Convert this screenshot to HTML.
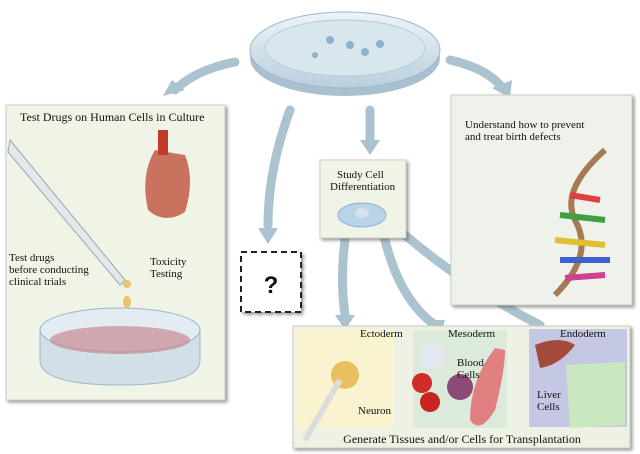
<!DOCTYPE html>
<html><head><style>body{margin:0;background:#fff}svg{display:block}text{font-family:"Liberation Serif",serif;fill:#111}</style></head><body>
<svg width="640" height="454" viewBox="0 0 640 454">
<defs>
<linearGradient id="dish" x1="0" y1="0" x2="0" y2="1"><stop offset="0" stop-color="#eef4f8"/><stop offset="1" stop-color="#b9cfdd"/></linearGradient>
<filter id="sh"><feDropShadow dx="2" dy="2" stdDeviation="1.5" flood-color="#555" flood-opacity="0.6"/></filter>
</defs>
<g fill="none" stroke="#abc2cf" stroke-width="9" stroke-linecap="round">
<path d="M235,62 Q195,70 175,90"/>
<path d="M290,110 Q268,170 268,225"/>
<path d="M370,110 L370,140"/>
<path d="M450,60 Q485,68 500,85"/>
<path d="M345,240 Q340,280 345,315"/>
<path d="M385,240 Q400,300 435,325"/>
<path d="M405,235 Q470,290 540,325"/>
</g>
<g fill="#abc2cf">
<polygon points="163,96 185,90 172,80"/>
<polygon points="258,228 278,228 268,244"/>
<polygon points="360,140 380,140 370,155"/>
<polygon points="492,88 512,80 510,98"/>
<polygon points="335,315 355,315 345,330"/>
<polygon points="425,320 445,320 440,338"/>
<polygon points="530,318 545,330 528,338"/>
</g>
<ellipse cx="345" cy="58" rx="95" ry="38" fill="#a9c0cf"/>
<ellipse cx="345" cy="50" rx="95" ry="38" fill="url(#dish)" stroke="#9fb8c8"/>
<ellipse cx="345" cy="48" rx="80" ry="28" fill="#d8e6ee" stroke="#b7cbd7"/>
<g fill="#8fb2cc"><circle cx="330" cy="40" r="4"/><circle cx="350" cy="45" r="4"/><circle cx="365" cy="52" r="4"/><circle cx="380" cy="44" r="4"/><circle cx="315" cy="55" r="3"/></g>
<rect x="6" y="105" width="219" height="295" fill="#eff4e7" stroke="#c8cfc0" filter="url(#sh)"/>
<text x="20" y="121" font-size="12">Test Drugs on Human Cells in Culture</text>
<path d="M10,140 L125,280 L120,285 L8,152Z" fill="#e4e8ea" stroke="#9aa"/>
<ellipse cx="127" cy="284" rx="4" ry="4" fill="#e8c46a"/>
<ellipse cx="127" cy="302" rx="4" ry="6" fill="#e8c46a"/>
<path d="M155,150 Q140,175 148,210 Q165,225 185,212 Q195,180 185,155Z" fill="#c9735e"/>
<rect x="158" y="130" width="10" height="25" fill="#c23a2a"/>
<text x="9" y="261" font-size="11">Test drugs</text>
<text x="9" y="273" font-size="11">before conducting</text>
<text x="9" y="285" font-size="11">clinical trials</text>
<text x="150" y="265" font-size="11">Toxicity</text>
<text x="150" y="277" font-size="11">Testing</text>
<path d="M40,330 L40,360 Q40,385 120,385 Q200,385 200,360 L200,330" fill="#d3dfe8" stroke="#9ab6c9"/>
<ellipse cx="120" cy="330" rx="80" ry="22" fill="#e2ecf2" stroke="#9ab6c9"/>
<ellipse cx="120" cy="340" rx="70" ry="14" fill="#c98a92" opacity="0.7"/>
<rect x="241" y="252" width="60" height="60" fill="#fff" stroke="#222" stroke-width="2" stroke-dasharray="6,4" filter="url(#sh)"/>
<text x="271" y="293" font-size="24" font-weight="bold" text-anchor="middle" style="font-family:'Liberation Sans',sans-serif">?</text>
<rect x="320" y="160" width="86" height="78" fill="#eff4e7" stroke="#c8cfc0" filter="url(#sh)"/>
<text x="337" y="178" font-size="11">Study Cell</text>
<text x="330" y="190" font-size="11">Differentiation</text>
<ellipse cx="362" cy="215" rx="24" ry="12" fill="#b9d3e8" stroke="#8fb0cc"/>
<ellipse cx="362" cy="213" rx="7" ry="5" fill="#d6e1ee"/>
<rect x="451" y="95" width="181" height="210" fill="#eff2ea" stroke="#c8cfc0" filter="url(#sh)"/>
<text x="465" y="128" font-size="11">Understand how to prevent</text>
<text x="465" y="140" font-size="11">and treat birth defects</text>
<path d="M605,150 Q560,190 575,220 Q595,255 555,295" fill="none" stroke="#a57a55" stroke-width="6"/>
<g stroke-width="6"><line x1="570" y1="195" x2="600" y2="200" stroke="#e04040"/><line x1="560" y1="215" x2="605" y2="220" stroke="#40a040"/><line x1="555" y1="240" x2="605" y2="245" stroke="#e0c030"/><line x1="560" y1="260" x2="610" y2="260" stroke="#4060d0"/><line x1="565" y1="278" x2="605" y2="275" stroke="#d04090"/></g>
<rect x="293" y="326" width="337" height="122" fill="#eef2e4" stroke="#c8cfc0" filter="url(#sh)"/>
<rect x="296" y="330" width="98" height="98" fill="#faf3cf"/>
<rect x="413" y="330" width="94" height="98" fill="#dbeadb"/>
<rect x="529" y="329" width="98" height="98" fill="#c4c8e4"/>
<text x="360" y="337" font-size="11">Ectoderm</text>
<text x="448" y="337" font-size="11">Mesoderm</text>
<text x="560" y="337" font-size="11">Endoderm</text>
<circle cx="345" cy="375" r="14" fill="#e8c060"/>
<path d="M340,380 L305,440" stroke="#dcdcdc" stroke-width="6"/>
<text x="358" y="414" font-size="11">Neuron</text>
<circle cx="432" cy="356" r="12" fill="#e4e6f0"/>
<circle cx="422" cy="383" r="10" fill="#d32a2a"/><circle cx="430" cy="402" r="10" fill="#c82424"/>
<circle cx="460" cy="387" r="13" fill="#8c4a76"/>
<path d="M495,348 Q470,380 470,420 Q480,435 495,410 Q505,370 505,350Z" fill="#e08080"/>
<text x="457" y="366" font-size="11">Blood</text>
<text x="457" y="378" font-size="11">Cells</text>
<path d="M535,345 Q560,335 575,345 Q560,365 540,368Z" fill="#a34a3a"/>
<path d="M566,365 L625,362 L625,425 L570,428Z" fill="#c9e8c0"/>
<text x="537" y="398" font-size="11">Liver</text>
<text x="537" y="410" font-size="11">Cells</text>
<text x="462" y="443" font-size="12" text-anchor="middle">Generate Tissues and/or Cells for Transplantation</text>
</svg>
</body></html>
